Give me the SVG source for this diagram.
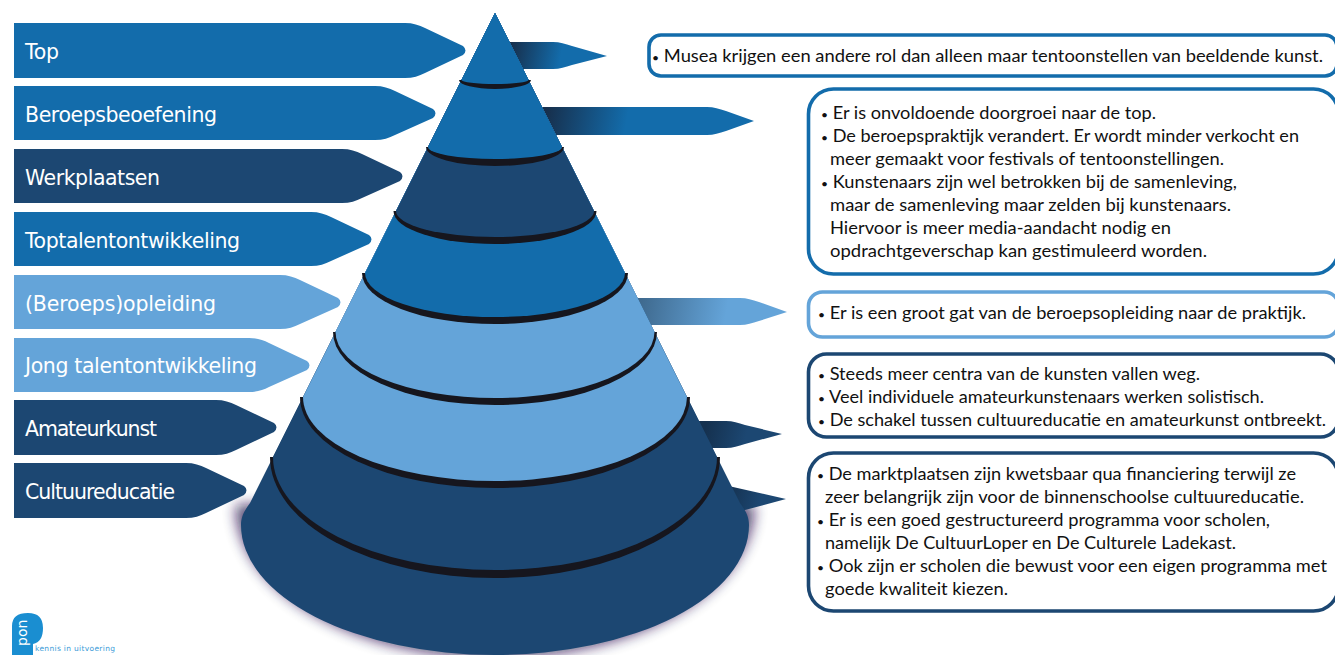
<svg xmlns="http://www.w3.org/2000/svg" width="1335" height="655" viewBox="0 0 1335 655">
<style>
.blue{fill:#136cab}.dark{fill:#1c4772}.light{fill:#64a4d9}.ring{fill:#16161e}
.lbl{font-family:"DejaVu Sans",sans-serif;font-size:20.500px;fill:#fff}
.t{font-family:Lato,"Noto Sans",sans-serif;font-size:18px;fill:#111}
.b{font-size:12px}
.box{fill:#fff;stroke-width:3.6}
</style>
<defs>
<filter id="sh" x="-10%" y="-15%" width="120%" height="130%"><feGaussianBlur stdDeviation="7"/></filter>
<linearGradient id="g1" gradientUnits="userSpaceOnUse" x1="510" y1="50" x2="560" y2="60"><stop offset="0" stop-color="#172f4c"/><stop offset="1" stop-color="#136cab"/></linearGradient>
<linearGradient id="g2" gradientUnits="userSpaceOnUse" x1="545" y1="115" x2="625" y2="130"><stop offset="0" stop-color="#172f4c"/><stop offset="1" stop-color="#136cab"/></linearGradient>
<linearGradient id="g3" gradientUnits="userSpaceOnUse" x1="640" y1="305" x2="725" y2="320"><stop offset="0" stop-color="#3f6a8f"/><stop offset="1" stop-color="#64a4d9"/></linearGradient>
<linearGradient id="g4" gradientUnits="userSpaceOnUse" x1="705" y1="430" x2="745" y2="440"><stop offset="0" stop-color="#15314f"/><stop offset="1" stop-color="#1c4772"/></linearGradient>
<linearGradient id="g5" gradientUnits="userSpaceOnUse" x1="725" y1="495" x2="760" y2="505"><stop offset="0" stop-color="#15314f"/><stop offset="1" stop-color="#1c4772"/></linearGradient>
</defs>

<path id="cone-shadow" fill="#241048" opacity=".8" filter="url(#sh)" d="M236,505A259,152 0 0 0 754,505Z"/>

<g id="connectors">
<path fill="url(#g1)" d="M505,42H553C560,42 565,44 572,46L607,56L572,65C565,67 560,69 553,69H505Z"/>
<path fill="url(#g2)" d="M535,107H707C714,107 719,109 726,111L754,121L726,131C719,133 714,135 707,135H535Z"/>
<path fill="url(#g3)" d="M630,298H740C747,298 752,300 759,302L787,312L759,321C752,323 747,325 740,325H630Z"/>
<path fill="url(#g4)" d="M695,421H726C733,421 738,423 745,425L782,434L745,444C738,446 733,448 726,448H695Z"/>
<path fill="url(#g5)" d="M690,477L733,487L786,499L745,510L700,522Z"/>
</g>

<g id="pyramid">
<path class="dark" d="M495,13L250,503C245,510 241,516 241,525A254,130 0 0 0 749,525C749,516 745,510 740,503Z"/>
<path class="ring" d="M270,457A225,121 0 0 0 720,457Z"/>
<path class="dark" d="M495,13L273,457A222,113 0 0 0 717,457Z"/>
<path class="ring" d="M300,397A195,91 0 0 0 690,397Z"/>
<path class="light" d="M495,13L303,397A192,84 0 0 0 687,397Z"/>
<path class="ring" d="M333,332A162,73 0 0 0 657,332Z"/>
<path class="light" d="M495,13L335.500,332A159.500,66 0 0 0 654.500,332Z"/>
<path class="ring" d="M362,273A133,51 0 0 0 628,273Z"/>
<path class="blue" d="M495,13L365,273A130,44 0 0 0 625,273Z"/>
<path class="ring" d="M393.500,211A101.500,33 0 0 0 596.500,211Z"/>
<path class="dark" d="M495,13L396,211A99,26 0 0 0 594,211Z"/>
<path class="ring" d="M426,147A69,19 0 0 0 564,147Z"/>
<path class="blue" d="M495,13L428,147A67,12 0 0 0 562,147Z"/>
<path class="ring" d="M459,80A36,9 0 0 0 531,80Z"/>
<path class="blue" d="M495,13L461.500,80A33.500,4 0 0 0 528.500,80Z"/>
</g>

<g id="tier-top"><path class="blue" d="M14,23H405C413,23 419,25 425,28L463,46Q468,50.500 463,55L425,73C419,76 413,78 405,78H14Z"/><text class="lbl" x="25" y="59" textLength="34">Top</text></g>
<g id="tier-beroepsbeoefening"><path class="blue" d="M14,86H375C383,86 389,88 395,91L433,109Q438,113 433,118L395,135C389,138 383,140 375,140H14Z"/><text class="lbl" x="25" y="122" textLength="192">Beroepsbeoefening</text></g>
<g id="tier-werkplaatsen"><path class="dark" d="M14,149H342C350,149 356,151 362,154L400,172Q405,176 400,181L362,198C356,201 350,203 342,203H14Z"/><text class="lbl" x="25" y="185" textLength="135">Werkplaatsen</text></g>
<g id="tier-toptalent"><path class="blue" d="M14,212H311C319,212 325,214 331,217L369,235Q374,239 369,244L331,261C325,264 319,266 311,266H14Z"/><text class="lbl" x="25" y="248" textLength="215">Toptalentontwikkeling</text></g>
<g id="tier-opleiding"><path class="light" d="M14,275H280C288,275 294,277 300,280L338,298Q343,302 338,307L300,324C294,327 288,329 280,329H14Z"/><text class="lbl" x="25" y="311" textLength="191">(Beroeps)opleiding</text></g>
<g id="tier-jong"><path class="light" d="M14,338H249C257,338 263,340 269,343L307,361Q312,365 307,370L269,387C263,390 257,392 249,392H14Z"/><text class="lbl" x="25" y="373" textLength="232">Jong talentontwikkeling</text></g>
<g id="tier-amateurkunst"><path class="dark" d="M14,400H216C224,400 230,402 236,405L274,423Q279,427 274,432L236,450C230,453 224,455 216,455H14Z"/><text class="lbl" x="25" y="436" textLength="132">Amateurkunst</text></g>
<g id="tier-cultuureducatie"><path class="dark" d="M14,463H186C194,463 200,465 206,468L244,486Q249,490 244,495L206,513C200,516 194,518 186,518H14Z"/><text class="lbl" x="25" y="499" textLength="150">Cultuureducatie</text></g>

<g id="box-top"><rect class="box" x="649" y="35" width="688" height="41" rx="12" stroke="#136cab"/>
<text class="t" x="652" y="62" textLength="671" lengthAdjust="spacingAndGlyphs"><tspan class="b">•</tspan> Musea krijgen een andere rol dan alleen maar tentoonstellen van beeldende kunst.</text></g>

<g id="box-beroepsbeoefening"><rect class="box" x="808.500" y="89" width="530" height="185" rx="25" stroke="#136cab"/>
<text class="t" x="821" y="119" textLength="335" lengthAdjust="spacingAndGlyphs"><tspan class="b">•</tspan> Er is onvoldoende doorgroei naar de top.</text>
<text class="t" x="821" y="142" textLength="478" lengthAdjust="spacingAndGlyphs"><tspan class="b">•</tspan> De beroepspraktijk verandert. Er wordt minder verkocht en</text>
<text class="t" x="830" y="165" textLength="394" lengthAdjust="spacingAndGlyphs">meer gemaakt voor festivals of tentoonstellingen.</text>
<text class="t" x="821" y="188" textLength="416" lengthAdjust="spacingAndGlyphs"><tspan class="b">•</tspan> Kunstenaars zijn wel betrokken bij de samenleving,</text>
<text class="t" x="830" y="211" textLength="401" lengthAdjust="spacingAndGlyphs">maar de samenleving maar zelden bij kunstenaars.</text>
<text class="t" x="830" y="234" textLength="341" lengthAdjust="spacingAndGlyphs">Hiervoor is meer media-aandacht nodig en</text>
<text class="t" x="830" y="257" textLength="377" lengthAdjust="spacingAndGlyphs">opdrachtgeverschap kan gestimuleerd worden.</text></g>

<g id="box-opleiding"><rect class="box" x="808.500" y="292" width="530" height="45" rx="14" stroke="#64a4d9"/>
<text class="t" x="818" y="319" textLength="488" lengthAdjust="spacingAndGlyphs"><tspan class="b">•</tspan> Er is een groot gat van de beroepsopleiding naar de praktijk.</text></g>

<g id="box-amateurkunst"><rect class="box" x="808.500" y="354" width="530" height="83" rx="18" stroke="#1c4772"/>
<text class="t" x="818" y="380" textLength="382" lengthAdjust="spacingAndGlyphs"><tspan class="b">•</tspan> Steeds meer centra van de kunsten vallen weg.</text>
<text class="t" x="818" y="403" textLength="446" lengthAdjust="spacingAndGlyphs"><tspan class="b">•</tspan> Veel individuele amateurkunstenaars werken solistisch.</text>
<text class="t" x="818" y="426" textLength="508" lengthAdjust="spacingAndGlyphs"><tspan class="b">•</tspan> De schakel tussen cultuureducatie en amateurkunst ontbreekt.</text></g>

<g id="box-cultuureducatie"><rect class="box" x="808.500" y="453" width="530" height="158" rx="25" stroke="#1c4772"/>
<text class="t" x="817" y="480" textLength="479" lengthAdjust="spacingAndGlyphs"><tspan class="b">•</tspan> De marktplaatsen zijn kwetsbaar qua financiering terwijl ze</text>
<text class="t" x="825" y="503" textLength="479" lengthAdjust="spacingAndGlyphs">zeer belangrijk zijn voor de binnenschoolse cultuureducatie.</text>
<text class="t" x="817" y="526" textLength="453" lengthAdjust="spacingAndGlyphs"><tspan class="b">•</tspan> Er is een goed gestructureerd programma voor scholen,</text>
<text class="t" x="825" y="549" textLength="411" lengthAdjust="spacingAndGlyphs">namelijk De CultuurLoper en De Culturele Ladekast.</text>
<text class="t" x="817" y="572" textLength="510" lengthAdjust="spacingAndGlyphs"><tspan class="b">•</tspan> Ook zijn er scholen die bewust voor een eigen programma met</text>
<text class="t" x="825" y="595" textLength="183" lengthAdjust="spacingAndGlyphs">goede kwaliteit kiezen.</text></g>

<g id="logo">
<path fill="#1a8ed1" d="M12,655V626Q12,613 28,613Q43,613 43,628Q43,642 33,644V655Z"/>
<text x="27" y="646" transform="rotate(-90 27 646)" font-family="'DejaVu Sans',sans-serif" font-size="14" fill="#fff">pon</text>
<text x="35" y="651" font-family="'DejaVu Sans',sans-serif" font-size="7.500" fill="#3a9bd8" textLength="80">kennis in uitvoering</text>
</g>
</svg>
